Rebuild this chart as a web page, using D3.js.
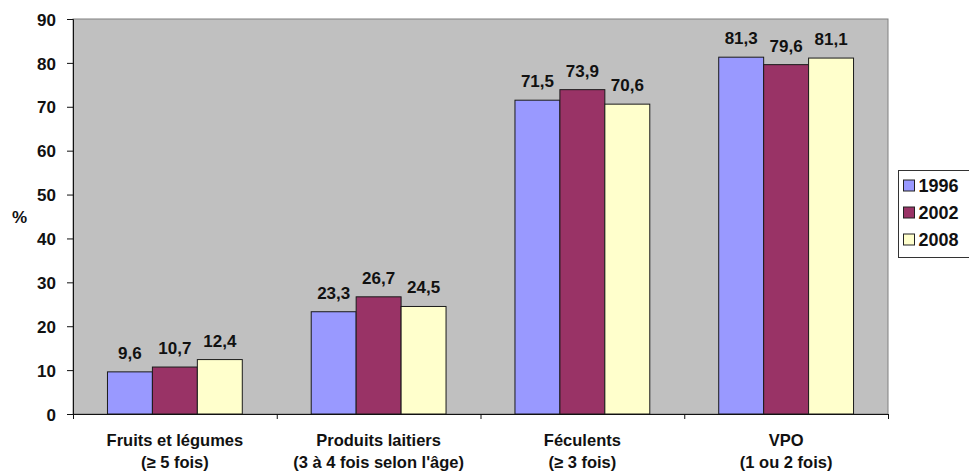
<!DOCTYPE html>
<html>
<head>
<meta charset="utf-8">
<script src="https://cdn.jsdelivr.net/npm/d3@7"></script>
<style>
  body { margin: 0; background: #fff; }
  text { font-family: "Liberation Sans", Arial, sans-serif; font-weight: bold; fill: #111; }
</style>
</head>
<body>
<svg id="chart" width="969" height="472"></svg>
<script>
// Food-group consumption shares (%), three survey years
const categoryNames = ["Fruits et légumes", "Produits laitiers", "Féculents", "VPO"];
const categoryNotes = ["(≥ 5 fois)", "(3 à 4 fois selon l'âge)", "(≥ 3 fois)", "(1 ou 2 fois)"];
const years = ["1996", "2002", "2008"];
const values1996 = [9.6, 23.3, 71.5, 81.3];
const values2002 = [10.7, 26.7, 73.9, 79.6];
const values2008 = [12.4, 24.5, 70.6, 81.1];
const yTicks = [0, 10, 20, 30, 40, 50, 60, 70, 80, 90];
const yearColors = ["#9999FF", "#993366", "#FFFFCC"];

const seriesValues = [values1996, values2002, values2008];
const rows = [];
categoryNames.forEach((c, i) => {
  years.forEach((yr, j) => rows.push({ cat: c, year: yr, value: seriesValues[j][i], color: yearColors[j] }));
});

const fr = d3.formatLocale({ decimal: ",", thousands: " ", grouping: [3], currency: ["", " €"] });
const fmt = fr.format(".1f");

const plot = { left: 73, right: 888, top: 19, bottom: 414 };
const svg = d3.select("#chart");

const x = d3.scaleBand().domain(categoryNames).range([plot.left, plot.right]).padding(0);
const xs = d3.scaleBand().domain(years).range([0, x.bandwidth()]).paddingInner(0).paddingOuter(0.767);
const y = d3.scaleLinear().domain([0, 90]).range([plot.bottom, plot.top]);

// plot area
svg.append("rect")
  .attr("x", plot.left).attr("y", plot.top)
  .attr("width", plot.right - plot.left).attr("height", plot.bottom - plot.top)
  .attr("fill", "#C0C0C0").attr("stroke", "#808080").attr("stroke-width", 1);

// bars
svg.append("g").selectAll("rect").data(rows).join("rect")
  .attr("x", d => x(d.cat) + xs(d.year))
  .attr("y", d => y(d.value))
  .attr("width", xs.bandwidth())
  .attr("height", d => y(0) - y(d.value))
  .attr("fill", d => d.color)
  .attr("stroke", "#1a1a1a").attr("stroke-width", 1);

// value labels
svg.append("g").selectAll("text").data(rows).join("text")
  .attr("x", d => x(d.cat) + xs(d.year) + xs.bandwidth() / 2)
  .attr("y", d => y(d.value) - 13)
  .attr("text-anchor", "middle")
  .style("font-size", "17px")
  .text(d => fmt(d.value));

// y axis
const yAxis = svg.append("g").attr("transform", `translate(${plot.left},0)`)
  .call(d3.axisLeft(y).tickValues(yTicks).tickSize(6).tickPadding(11));
yAxis.selectAll("text").style("font-size", "17px").attr("dy", "0.36em");
yAxis.selectAll("line, path").attr("stroke", "#111");

// x axis: tick marks at band edges
const edges = d3.scaleLinear().domain([0, categoryNames.length]).range([plot.left, plot.right]);
const xAxis = svg.append("g").attr("transform", `translate(0,${plot.bottom})`)
  .call(d3.axisBottom(edges).tickValues(d3.range(categoryNames.length + 1)).tickSize(5).tickSizeOuter(0).tickFormat(""));
xAxis.selectAll("line, path").attr("stroke", "#111");

// category labels
const catLabels = svg.append("g").selectAll("text").data(categoryNames).join("text")
  .attr("text-anchor", "middle")
  .style("font-size", "16.5px");
catLabels.append("tspan").attr("x", d => x(d) + x.bandwidth() / 2).attr("y", 446).text(d => d);
catLabels.append("tspan").attr("x", d => x(d) + x.bandwidth() / 2).attr("y", 468).text((d, i) => categoryNotes[i]);

// y axis title
svg.append("text").attr("x", 12).attr("y", 223).style("font-size", "17px").text("%");

// legend
const legend = svg.append("g").attr("transform", "translate(898.5,170.5)");
legend.append("rect").attr("x", 0).attr("y", 0).attr("width", 90).attr("height", 87)
  .attr("fill", "#fff").attr("stroke", "#333").attr("stroke-width", 1);
const items = legend.selectAll("g").data(years).join("g")
  .attr("transform", (d, i) => `translate(5,${15 + i * 27})`);
items.append("rect").attr("x", 0).attr("y", -5.5).attr("width", 11).attr("height", 11)
  .attr("fill", (d, i) => yearColors[i]).attr("stroke", "#222");
items.append("text").attr("x", 15).attr("dy", "0.36em").style("font-size", "18px").text(d => d);
</script>
</body>
</html>
